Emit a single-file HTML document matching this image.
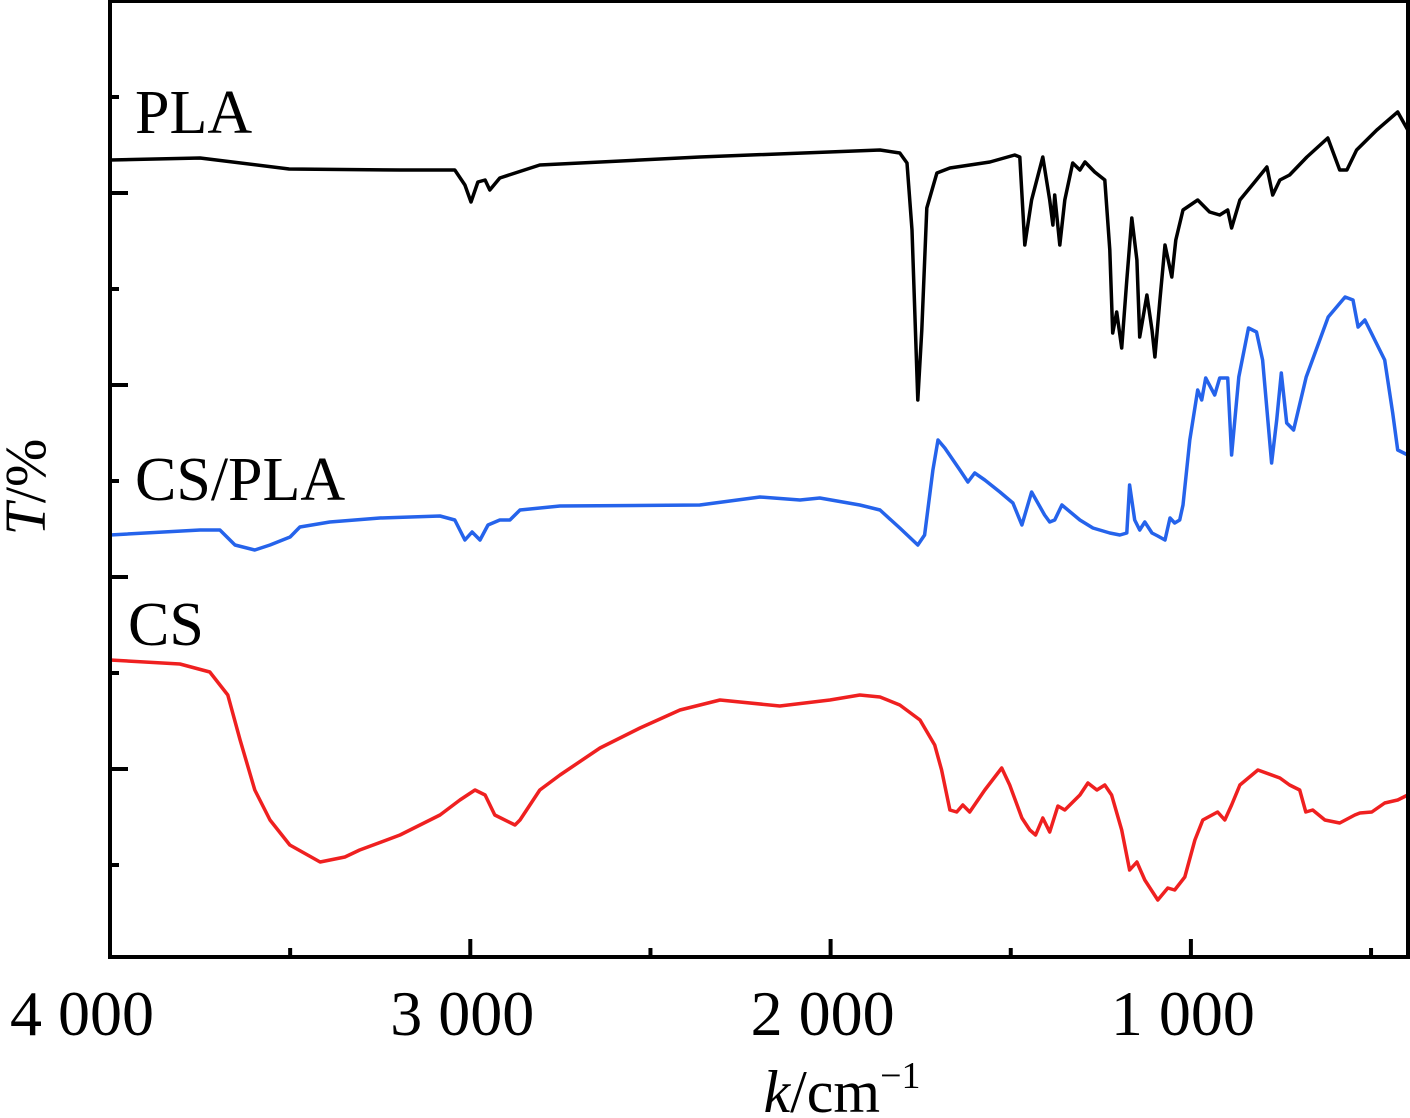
<!DOCTYPE html>
<html><head><meta charset="utf-8"><style>
html,body{margin:0;padding:0;background:#fff;}
svg{display:block;}
text{font-family:"Liberation Serif",serif;fill:#000;}
</style></head><body>
<svg id="chart" width="1410" height="1118" viewBox="0 0 1410 1118" xmlns="http://www.w3.org/2000/svg">
<g id="plot"></g>
<g id="axes"></g>
<text x="135" y="133" font-size="62">PLA</text>
<text x="135" y="500" font-size="62">CS/PLA</text>
<text x="128" y="645" font-size="62">CS</text>
<text transform="translate(45,487) rotate(-90)" text-anchor="middle" font-size="58"><tspan font-style="italic">T</tspan>/%</text>
<text x="842" y="1112" text-anchor="middle" font-size="60"><tspan font-style="italic">k</tspan>/cm<tspan dy="-24" font-size="38">−1</tspan></text>
</svg>
<script>
// wavenumbers (cm^-1) and transmittance (a.u.) for each spectrum
const plaW=[4000,3750,3503,3195,3043,3015,2998,2979,2959,2946,2918,2807,2363,1863,1808,1788,1774,1758,1747,1733,1705,1669,1558,1489,1475,1461,1442,1411,1392,1383,1378,1364,1350,1328,1308,1294,1267,1239,1225,1217,1206,1192,1178,1164,1150,1142,1122,1108,1100,1086,1072,1053,1042,1022,981,948,920,898,887,864,823,789,773,753,726,678,620,587,567,540,484,426,398];
const plaT=[797,799,788,787,787,772,755,775,777,767,779,792,800,807,804,794,727,557,627,749,784,789,795,802,800,712,757,800,757,732,762,712,757,794,787,795,785,777,707,624,645,609,677,739,697,620,662,627,600,657,712,680,717,747,757,745,742,747,729,757,775,790,762,777,782,800,819,787,787,807,827,845,827];
const cpW=[4000,3750,3695,3653,3598,3556,3500,3473,3390,3251,3084,3043,3015,2995,2973,2951,2918,2890,2862,2751,2363,2196,2085,2030,1919,1863,1808,1758,1739,1716,1702,1683,1641,1619,1600,1572,1530,1494,1469,1442,1406,1392,1378,1358,1308,1272,1225,1197,1178,1170,1156,1142,1128,1108,1092,1072,1058,1045,1031,1022,1003,981,970,959,934,920,898,887,867,840,818,801,776,762,749,734,715,680,619,572,550,536,517,462,440,426,398];
const cpT=[422,427,427,412,407,412,420,430,435,439,441,437,417,425,417,432,437,437,447,451,452,460,457,459,452,447,429,412,422,487,517,509,487,475,484,477,465,454,432,465,442,435,437,452,437,429,424,422,424,472,437,427,435,424,421,417,439,434,437,452,517,567,557,579,562,579,579,502,580,629,625,597,494,537,584,534,527,580,640,660,657,630,637,597,544,507,502];
const csW=[4000,3806,3723,3673,3639,3598,3556,3501,3417,3348,3307,3195,3084,3029,2987,2959,2932,2876,2862,2807,2751,2640,2529,2418,2307,2141,2002,1919,1863,1808,1752,1711,1692,1669,1650,1633,1614,1572,1525,1503,1469,1447,1431,1411,1392,1369,1350,1308,1286,1261,1239,1220,1192,1170,1150,1128,1092,1064,1045,1017,989,967,926,906,887,864,814,753,726,698,681,662,628,587,545,531,498,462,426,398];
const csT=[297,293,285,262,217,167,137,112,95,100,107,122,142,157,167,162,142,132,137,167,182,209,229,247,257,251,257,262,260,252,237,212,187,147,145,152,145,167,189,172,139,127,122,139,125,151,147,162,174,167,172,162,127,87,95,77,57,69,67,80,117,137,145,137,152,172,187,179,172,167,145,147,137,134,142,144,145,154,157,162];
const xTicksMajor=[4000,3000,2000,1000];
const xTickLabels=["4 000","3 000","2 000","1 000"];
const xTicksMinor=[3500,2500,1500,500];
const yTicksMajor=[764,572,380,188];
const yTicksMinor=[860,668,476,284,92];

const L=110,R=1408,T=1,B=957;
function xs(w){return L+(4000-w)*0.3603;}
function ys(v){return B-v;}
const NS="http://www.w3.org/2000/svg";
const plot=document.getElementById('plot'), axes=document.getElementById('axes');
function line(w,t,color,name){
  const p=document.createElementNS(NS,'path');
  let d='';
  for(let i=0;i<w.length;i++){d+=(i?'L':'M')+xs(w[i]).toFixed(1)+','+ys(t[i]).toFixed(1);}
  p.setAttribute('d',d);p.setAttribute('fill','none');p.setAttribute('stroke',color);
  p.setAttribute('stroke-width','3.5');p.setAttribute('stroke-linejoin','round');
  
  
  plot.appendChild(p);
}
line(plaW,plaT,'#000','series-pla');
line(cpW,cpT,'#2563eb','series-cs-pla');
line(csW,csT,'#ef2020','series-cs');

function seg(x1,y1,x2,y2,name){
  const l=document.createElementNS(NS,'line');
  l.setAttribute('x1',x1);l.setAttribute('y1',y1);l.setAttribute('x2',x2);l.setAttribute('y2',y2);
  l.setAttribute('stroke','#000');l.setAttribute('stroke-width','4');
  
  
  axes.appendChild(l);
}
const fr=document.createElementNS(NS,'rect');
fr.setAttribute('x',L);fr.setAttribute('y',T);fr.setAttribute('width',R-L);fr.setAttribute('height',B-T);
fr.setAttribute('fill','none');fr.setAttribute('stroke','#000');fr.setAttribute('stroke-width','4');


axes.appendChild(fr);
xTicksMajor.forEach((w,i)=>{
  seg(xs(w),B,xs(w),B-18,'x-tick-major');
  const t=document.createElementNS(NS,'text');
  t.setAttribute('x',i===0?82:xs(w)-8);t.setAttribute('y',1035);t.setAttribute('text-anchor','middle');t.setAttribute('font-size','64');
  t.textContent=xTickLabels[i];
  
  
  axes.appendChild(t);
});
xTicksMinor.forEach(w=>seg(xs(w),B,xs(w),B-9,'x-tick-minor'));
yTicksMajor.forEach(v=>seg(L,ys(v),L+18,ys(v),'y-tick-major'));
yTicksMinor.forEach(v=>seg(L,ys(v),L+9,ys(v),'y-tick-minor'));
</script>
</body></html>
